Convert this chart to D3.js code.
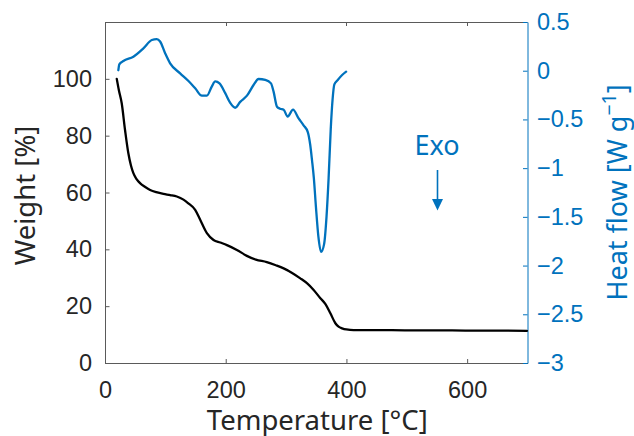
<!DOCTYPE html>
<html>
<head>
<meta charset="utf-8">
<script src="https://cdn.jsdelivr.net/npm/d3@7"></script>
<style>
  html, body { margin: 0; padding: 0; background: #fff; }
  svg { display: block; font-family: "Noto Sans", "Open Sans", sans-serif; }
</style>
</head>
<body>
<svg id="chart" width="634" height="436"></svg>
<script>
// Thermogravimetric (weight) curve: temperature [°C], weight [%]
const weightTemp = [19.5, 23, 27.7, 33.2, 38.7, 43, 47, 52, 58, 66, 74.7, 85, 96.8, 108, 119, 130, 138, 149.4, 157.7, 168.8, 179.8, 191, 202, 218.5, 235, 250, 268, 283, 296, 310, 323.6, 335, 345.7, 356.8, 365, 373.4, 381.7, 387, 392.8, 400, 412, 450, 500, 550, 600, 650, 699];
const weightPct  = [100, 96, 91.4, 82, 73.8, 69.5, 66.8, 64.8, 63.3, 62, 60.9, 60.1, 59.5, 59.1, 58.6, 57.5, 56.2, 53.9, 50.4, 45.7, 43.3, 42.4, 41.5, 39.8, 37.7, 36.4, 35.5, 34.4, 33.3, 31.7, 29.8, 28, 25.7, 22.8, 20.8, 17.5, 14, 12.8, 12.2, 11.8, 11.6, 11.6, 11.5, 11.5, 11.4, 11.4, 11.3];

// DSC curve: temperature [°C], heat flow [W g^-1]
const heatTemp = [22.1, 23.7, 30.4, 47, 63.6, 77.5, 85.8, 91.3, 99.6, 107.9, 124.5, 138.3, 149.4, 160.5, 168.8, 177.1, 182.6, 189.7, 199.2, 207.5, 215.8, 224, 235.2, 246.1, 254.4, 265.6, 275, 279.3, 285, 290, 296, 302.6, 311.5, 320.8, 329, 336, 340, 343, 346, 349.5, 353.5, 358, 363, 367, 370.5, 374, 377, 380, 385.6, 392.9, 399.5];
const heatFlow = [0.005, 0.066, 0.10, 0.144, 0.23, 0.315, 0.325, 0.30, 0.18, 0.076, -0.027, -0.106, -0.18, -0.256, -0.256, -0.16, -0.11, -0.13, -0.23, -0.33, -0.38, -0.32, -0.256, -0.147, -0.085, -0.095, -0.13, -0.215, -0.37, -0.39, -0.40, -0.47, -0.40, -0.49, -0.56, -0.63, -0.76, -0.92, -1.1, -1.4, -1.7, -1.86, -1.78, -1.5, -1.1, -0.6, -0.3, -0.14, -0.095, -0.044, -0.01];

// Axis ticks
const tempTicks = [0, 200, 400, 600];
const weightTicks = [0, 20, 40, 60, 80, 100];
const heatTicks = [-3, -2.5, -2, -1.5, -1, -0.5, 0, 0.5];

const BLUE = "#0072BD";
const INK = "#262626";
const AXIS = "#5a5a5a";

const svg = d3.select("#chart");
const plotL = 105, plotR = 527.5, plotT = 22, plotB = 363;

const x = d3.scaleLinear().domain([0, 700]).range([plotL, plotR]);
const yW = d3.scaleLinear().domain([0, 120]).range([plotB, plotT]);
const yH = d3.scaleLinear().domain([-3, 0.5]).range([plotB, plotT]);

const tickFont = 23.5, labelFont = 27.5;
const fmtHeat = v => (v < 0 ? "\u2212" : "") + d3.format("~g")(Math.abs(v));

// Top frame line with inward ticks
svg.append("line")
  .attr("x1", plotL).attr("x2", plotR).attr("y1", plotT + 0.5).attr("y2", plotT + 0.5)
  .attr("stroke", AXIS).attr("stroke-width", 1);
svg.append("g").selectAll("line").data(tempTicks.filter(t => t > 0)).join("line")
  .attr("x1", d => Math.round(x(d)) + 0.5).attr("x2", d => Math.round(x(d)) + 0.5)
  .attr("y1", plotT).attr("y2", plotT + 4)
  .attr("stroke", AXIS).attr("stroke-width", 1);

// Bottom axis
const gx = svg.append("g").attr("transform", `translate(0,${plotB})`)
  .call(d3.axisBottom(x).tickValues(tempTicks).tickSize(-4).tickPadding(18.8).tickSizeOuter(0));
gx.select(".domain").attr("stroke", AXIS);
gx.selectAll(".tick line").attr("stroke", AXIS);
gx.selectAll("text").attr("font-size", tickFont).attr("fill", INK).attr("font-family", null);

// Left axis (weight)
const gyL = svg.append("g").attr("transform", `translate(${plotL},0)`)
  .call(d3.axisLeft(yW).tickValues(weightTicks).tickSize(-4.5).tickPadding(13).tickSizeOuter(0));
gyL.select(".domain").attr("stroke", AXIS);
gyL.selectAll(".tick line").attr("stroke", AXIS);
gyL.selectAll("text").attr("font-size", tickFont).attr("fill", INK).attr("font-family", null);

// Right axis (heat flow)
const gyR = svg.append("g").attr("transform", `translate(${plotR},0)`)
  .call(d3.axisRight(yH).tickValues(heatTicks).tickFormat(fmtHeat).tickSize(-4.5).tickPadding(9.5).tickSizeOuter(0));
gyR.select(".domain").attr("stroke", BLUE);
gyR.selectAll(".tick line").attr("stroke", BLUE);
gyR.selectAll("text").attr("font-size", tickFont).attr("fill", BLUE).attr("font-family", null);

// Curves
const weightData = weightTemp.map((t, i) => [t, weightPct[i]]);
const heatData = heatTemp.map((t, i) => [t, heatFlow[i]]);

svg.append("path").datum(weightData)
  .attr("fill", "none").attr("stroke", "#000").attr("stroke-width", 2.3)
  .attr("stroke-linejoin", "round").attr("stroke-linecap", "round")
  .attr("d", d3.line().x(d => x(d[0])).y(d => yW(d[1])).curve(d3.curveMonotoneX));

svg.append("path").datum(heatData)
  .attr("fill", "none").attr("stroke", BLUE).attr("stroke-width", 2.3)
  .attr("stroke-linejoin", "round").attr("stroke-linecap", "round")
  .attr("d", d3.line().x(d => x(d[0])).y(d => yH(d[1])).curve(d3.curveMonotoneX));

// Axis titles
svg.append("text")
  .attr("x", (plotL + plotR) / 2 + 1).attr("y", 429.5)
  .attr("text-anchor", "middle").attr("font-size", labelFont).attr("fill", INK)
  .text("Temperature [°C]");

svg.append("text")
  .attr("transform", `translate(35,${(plotT + plotB) / 2 + 3}) rotate(-90)`)
  .attr("text-anchor", "middle").attr("font-size", labelFont).attr("fill", INK)
  .text("Weight [%]");

const hLabel = svg.append("text")
  .attr("transform", `translate(627,${(plotT + plotB) / 2}) rotate(-90)`)
  .attr("text-anchor", "middle").attr("font-size", 27).attr("fill", BLUE);
hLabel.append("tspan").text("Heat flow [W g");
hLabel.append("tspan").attr("font-size", 27 * 0.72).attr("dy", -11).text("\u22121");
hLabel.append("tspan").attr("dy", 11).text("]");

// Exo annotation with downward arrow
svg.append("text")
  .attr("x", 437).attr("y", 155)
  .attr("text-anchor", "middle").attr("font-size", 27).attr("fill", BLUE)
  .text("Exo");
svg.append("line")
  .attr("x1", 437.5).attr("x2", 437.5).attr("y1", 170).attr("y2", 201)
  .attr("stroke", BLUE).attr("stroke-width", 1.6);
svg.append("path")
  .attr("d", "M432,199 L443,199 L437.5,210.5 Z")
  .attr("fill", BLUE);
</script>
</body>
</html>
